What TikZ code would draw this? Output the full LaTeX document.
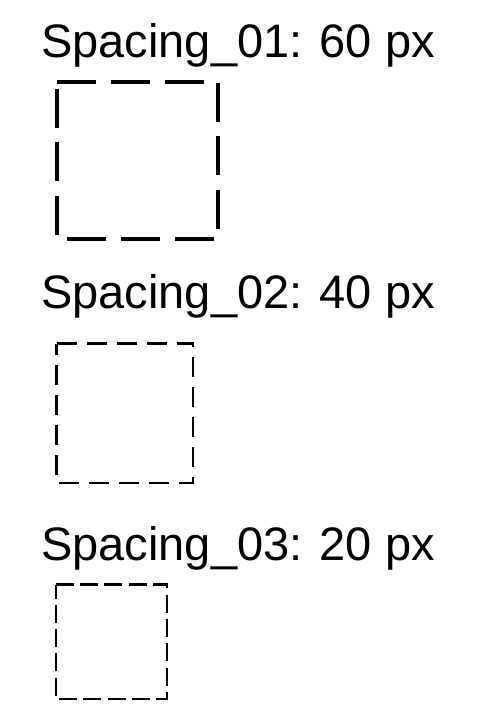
\documentclass[tikz,border=0pt]{standalone}
\usepackage{fontspec}
\setmainfont{Liberation Sans}
\usepackage{tikz}
\usetikzlibrary{positioning}

\begin{document}
\begin{tikzpicture}[x=1pt, y=-1pt,
    label/.style={anchor=base west, inner sep=0pt, font=\fontsize{47}{56}\selectfont},
    sample/.style={inner sep=0pt, outer sep=0pt},
    outline/.style={draw=black, dash phase=0pt}]
\useasboundingbox (0,0) rectangle (488,717);
% Dash spacing samples, each outline runs clockwise from the top left corner
\node[label] (lab01) at (41,57) {Spacing\_01: 60 px};
\node[sample, minimum width=160.4pt, minimum height=157pt] (box01) at (137.5,160.8) {};
\draw[outline, line width=4pt, dash pattern=on 39pt off 14.6pt]
    (box01.north west) -- (box01.north east) -- (box01.south east) -- (box01.south west) -- cycle;

\node[label] (lab02) at (41,308) {Spacing\_02: 40 px};
\node[sample, minimum width=136.3pt, minimum height=139.3pt] (box02) at (124.8,413.3) {};
\draw[outline, line width=2.7pt, dash pattern=on 20pt off 10pt]
    (box02.north west) -- (box02.north east) -- (box02.south east) -- (box02.south west) -- cycle;

\node[label] (lab03) at (41,560) {Spacing\_03: 20 px};
\node[sample, minimum width=111.4pt, minimum height=114.3pt] (box03) at (111.5,641.7) {};
\draw[outline, line width=2.2pt, dash pattern=on 18pt off 6.3pt]
    (box03.north west) -- (box03.north east) -- (box03.south east) -- (box03.south west) -- cycle;
\end{tikzpicture}
\end{document}
